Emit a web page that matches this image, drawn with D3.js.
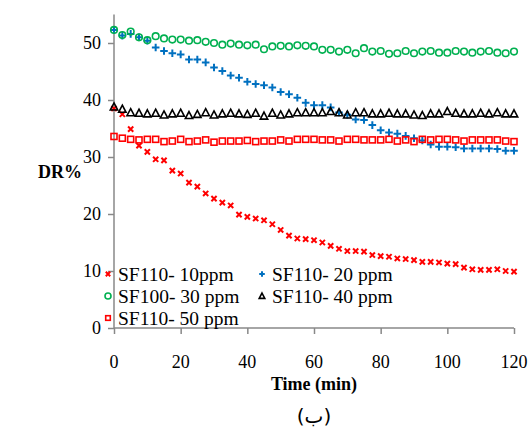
<!DOCTYPE html>
<html>
<head>
<meta charset="utf-8">
<script src="https://cdn.jsdelivr.net/npm/d3@7"></script>
<style>
  html, body { margin: 0; padding: 0; background: #fff; }
  svg { display: block; }
</style>
</head>
<body>
<svg id="chart" width="531" height="429"></svg>
<script>
const times = [0,2.5,5,7.5,10,12.5,15,17.5,20,22.5,25,27.5,30,32.5,35,37.5,40,42.5,45,47.5,50,52.5,55,57.5,60,62.5,65,67.5,70,72.5,75,77.5,80,82.5,85,87.5,90,92.5,95,97.5,100,102.5,105,107.5,110,112.5,115,117.5,120];
const sf110_10 = [38.5,37.5,34.9,32.0,30.9,29.6,29.4,27.6,27.1,25.5,24.8,23.6,22.7,22.0,21.5,19.9,19.5,19.2,18.9,18.2,17.2,16.2,15.7,15.6,15.4,15.0,14.4,13.9,13.5,13.5,13.4,12.8,12.6,12.5,12.2,12.1,11.9,11.6,11.6,11.5,11.3,11.2,10.6,10.3,10.2,10.2,10.3,10.0,9.9];
const sf110_20 = [52.3,51.3,51.6,51.0,50.4,49.2,48.6,48.2,48.0,47.1,47.1,46.6,45.7,45.1,44.3,43.9,43.2,42.8,42.6,42.2,41.4,41.0,40.4,39.5,39.1,39.1,38.7,37.8,37.4,36.6,36.5,35.6,34.7,34.3,34.1,33.7,33.3,32.9,32.2,31.8,31.8,31.7,31.5,31.5,31.5,31.5,31.4,31.1,31.1];
const sf100_30 = [52.3,51.4,52.0,51.0,50.5,51.2,50.8,50.6,50.6,50.4,50.5,50.2,50.0,49.7,49.9,49.7,49.6,49.7,48.9,49.4,49.5,49.4,49.6,49.5,49.4,48.8,48.8,48.5,48.8,48.2,49.1,48.5,48.6,48.1,48.2,48.6,48.2,48.5,48.6,48.3,48.3,48.6,48.5,48.3,48.5,48.6,48.3,48.2,48.5];
const sf110_40 = [38.8,38.4,37.8,37.7,37.6,37.7,37.4,37.6,37.7,37.3,37.5,37.8,37.4,37.6,37.7,37.6,37.5,37.7,37.2,37.7,37.4,37.6,37.8,37.8,37.8,37.8,38.0,37.8,37.4,37.8,37.8,37.6,37.6,37.7,37.6,37.6,37.4,37.3,37.6,37.6,38.0,37.7,37.6,37.6,37.7,37.6,37.8,37.6,37.6];
const sf110_50 = [33.6,33.3,33.1,33.0,33.1,33.1,32.7,32.8,33.1,32.7,32.8,33.0,32.6,32.8,32.8,32.8,32.9,32.7,32.8,32.8,33.0,32.8,33.1,33.1,33.1,33.0,33.0,32.8,33.1,33.1,33.0,33.0,33.0,33.1,32.8,33.0,32.7,33.1,33.0,33.1,33.1,33.0,32.8,33.0,33.0,33.0,33.0,32.8,32.7];
const seriesNames = ["SF110- 10ppm","SF110- 20 ppm","SF100- 30 ppm","SF110- 40 ppm","SF110- 50 ppm"];
const xTicks = [0,20,40,60,80,100,120];
const yTicks = [0,10,20,30,40,50];

const svg = d3.select("#chart");
const FONT = "'Liberation Serif', 'Times New Roman', serif";
const AXIS = "#888888";

const x = d3.scaleLinear().domain([0,120]).range([114,514]);
const y = d3.scaleLinear().domain([0,55]).range([328,14.5]);

const sym = {
  cross: (g, s, c) => { g.append("path").attr("d",`M${-s},${-s}L${s},${s}M${-s},${s}L${s},${-s}`).attr("stroke",c).attr("stroke-width",2).attr("fill","none"); },
  plus: (g, s, c) => { g.append("path").attr("d",`M${-s},0L${s},0M0,${-s}L0,${s}`).attr("stroke",c).attr("stroke-width",2).attr("fill","none"); },
  circle: (g, s, c) => { g.append("circle").attr("r",s).attr("stroke",c).attr("stroke-width",1.6).attr("fill","none"); },
  tri: (g, s, c) => { g.append("path").attr("d",`M0,${-s*1.05}L${s},${s*0.85}L${-s},${s*0.85}Z`).attr("stroke",c).attr("stroke-width",1.6).attr("fill","none"); },
  square: (g, s, c) => { g.append("rect").attr("x",-s).attr("y",-s).attr("width",2*s).attr("height",2*s).attr("stroke",c).attr("stroke-width",1.6).attr("fill","none"); }
};

const series = [
  {name: seriesNames[0], vals: sf110_10, type:"cross", color:"#FF0000", size:2.6, lsize:2.2},
  {name: seriesNames[1], vals: sf110_20, type:"plus", color:"#0070C0", size:3.8, lsize:2.8},
  {name: seriesNames[2], vals: sf100_30, type:"circle", color:"#00B050", size:3.3, lsize:3.0},
  {name: seriesNames[3], vals: sf110_40, type:"tri", color:"#000000", size:3.7, lsize:2.8},
  {name: seriesNames[4], vals: sf110_50, type:"square", color:"#FF0000", size:3.0, lsize:2.3}
];

// axes
const xAxis = d3.axisBottom(x).tickValues(xTicks).tickSize(6).tickFormat("");
const gx = svg.append("g").attr("transform","translate(0,328)").call(xAxis);
gx.select(".domain").attr("stroke",AXIS).attr("stroke-width",1.5).attr("d",`M${x(0)},0H${x(120)}`);
gx.selectAll(".tick line").attr("stroke",AXIS).attr("stroke-width",1.5);

const yAxis = d3.axisLeft(y).tickValues(yTicks).tickSize(6).tickFormat("");
const gy = svg.append("g").attr("transform",`translate(${x(0)},0)`).call(yAxis);
gy.select(".domain").attr("stroke",AXIS).attr("stroke-width",1.5).attr("d",`M0,${y(55)}V${y(0)}`);
gy.selectAll(".tick line").attr("stroke",AXIS).attr("stroke-width",1.5);

// tick labels
svg.append("g").selectAll("text").data(xTicks).join("text")
  .attr("x", d => x(d)).attr("y", 368).attr("text-anchor","middle")
  .attr("font-family",FONT).attr("font-size",18).attr("fill","#000").text(d => d);
svg.append("g").selectAll("text").data(yTicks).join("text")
  .attr("x", 101).attr("y", d => y(d)+6).attr("text-anchor","end")
  .attr("font-family",FONT).attr("font-size",18).attr("fill","#000").text(d => d);

// axis titles
svg.append("text").attr("x",314).attr("y",390).attr("text-anchor","middle")
  .attr("font-family",FONT).attr("font-size",18).attr("font-weight","bold").text("Time (min)");
svg.append("text").attr("x",60).attr("y",178).attr("text-anchor","middle")
  .attr("font-family",FONT).attr("font-size",18).attr("font-weight","bold").text("DR%");
svg.append("text").attr("x",314).attr("y",423).attr("text-anchor","middle")
  .attr("font-family","'DejaVu Sans', 'Noto Sans', sans-serif").attr("font-size",20).text("(ب)");

// data points
series.forEach(s => {
  const g = svg.append("g");
  s.vals.forEach((v, i) => {
    const pg = g.append("g").attr("transform",`translate(${x(times[i])},${y(v)})`);
    sym[s.type](pg, s.size, s.color);
  });
});

// legend
const legendPos = [
  {mx:108, tx:118, yy:274},
  {mx:262, tx:272, yy:274},
  {mx:108, tx:118, yy:296},
  {mx:262, tx:272, yy:296},
  {mx:108, tx:118, yy:318}
];
series.forEach((s, i) => {
  const p = legendPos[i];
  const pg = svg.append("g").attr("transform",`translate(${p.mx},${p.yy})`);
  sym[s.type](pg, s.lsize, s.color);
  svg.append("text").attr("x",p.tx).attr("y",p.yy+7)
    .attr("font-family",FONT).attr("font-size",19.5).attr("fill","#000").text(s.name);
});
</script>
</body>
</html>
